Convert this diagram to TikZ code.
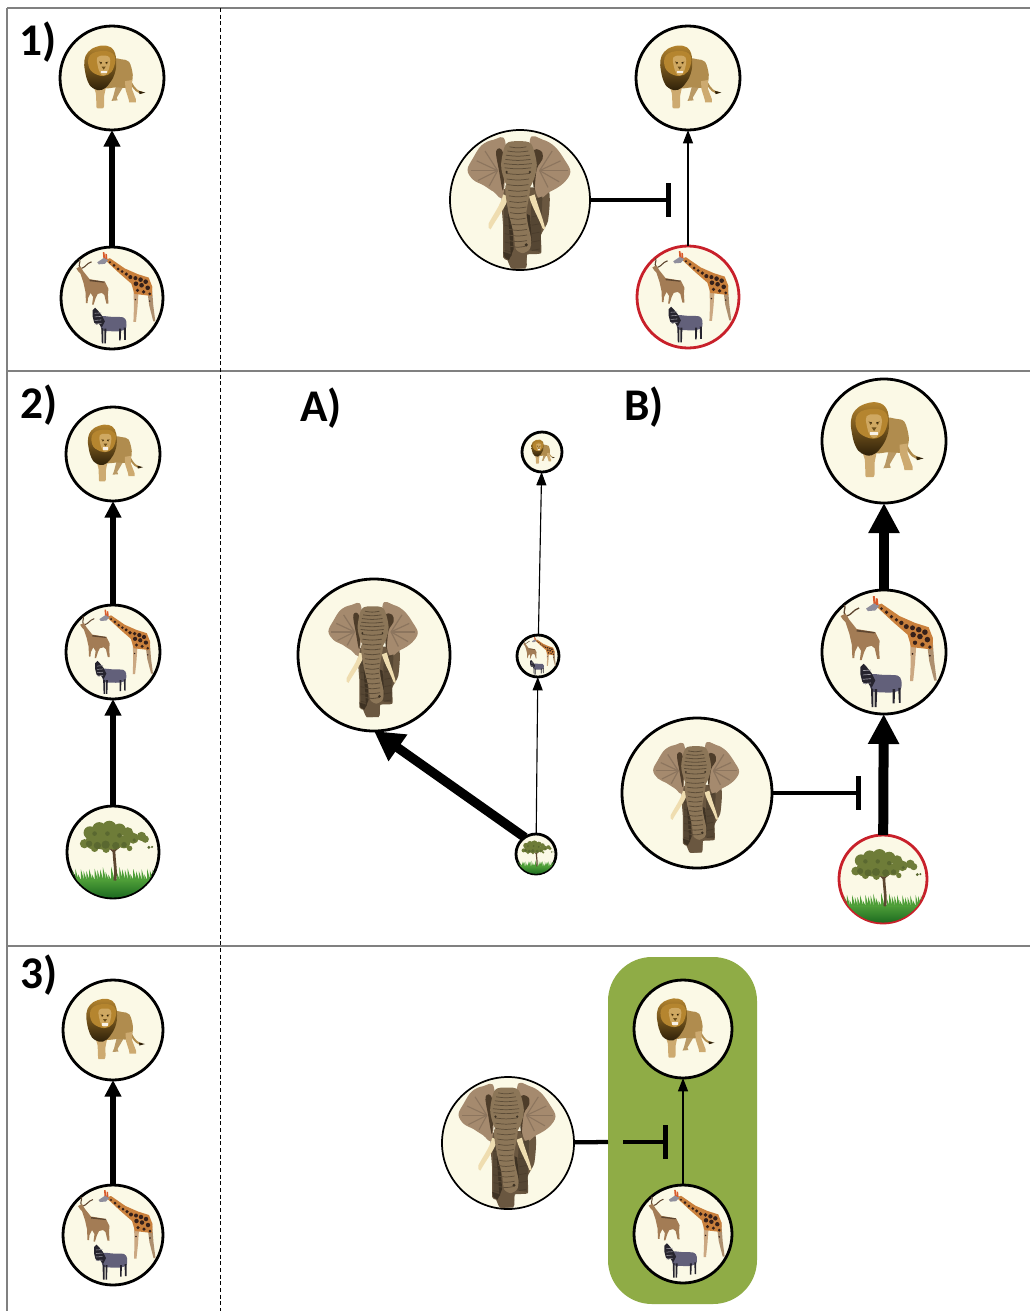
\documentclass[tikz,border=0pt]{standalone}
\usepackage{fontspec}
\setmainfont{Carlito}
\usetikzlibrary{arrows.meta}
\definecolor{cream}{HTML}{FBF9E6}
\definecolor{rim}{HTML}{C8202A}
\definecolor{patch}{HTML}{8FAC46}
\definecolor{rule}{HTML}{808080}
\definecolor{lionbody}{HTML}{B08C4E}
\definecolor{lionlight}{HTML}{CDAA70}
\definecolor{lionmane}{HTML}{B5852F}
\definecolor{lionface}{HTML}{CFA862}
\definecolor{liondark}{HTML}{2E2009}
\definecolor{earcol}{HTML}{A58A6E}
\definecolor{eardark}{HTML}{4E3D2A}
\definecolor{headcol}{HTML}{8C7658}
\definecolor{legcol}{HTML}{6A5740}
\definecolor{wrink}{HTML}{3E3223}
\definecolor{tusk}{HTML}{EFDDB0}
\definecolor{giraffe}{HTML}{C9803C}
\definecolor{giraffeleg}{HTML}{CBA882}
\definecolor{giraffespot}{HTML}{35201A}
\definecolor{giraffehead}{HTML}{8F8E9C}
\definecolor{kudu}{HTML}{A37C55}
\definecolor{kududark}{HTML}{5E4630}
\definecolor{zebra}{HTML}{62607A}
\definecolor{zebradark}{HTML}{26242E}
\definecolor{canopy}{HTML}{6E7C38}
\definecolor{canopydark}{HTML}{5A6830}
\definecolor{bark}{HTML}{5C4630}
\definecolor{grass}{HTML}{4E9E38}
\definecolor{grassdark}{HTML}{1C6A20}
\tikzset{
  habitat/.style={circle,draw=black,line width=2.1pt,fill=cream,inner sep=0pt,outer sep=0pt},
  redrim/.style={draw=rim},
  thinrim/.style={line width=1.3pt},
  gridline/.style={draw=rule,line width=0.8pt},
  dashline/.style={draw=black,line width=0.6pt,dashed,dash pattern=on 3pt off 2pt},
  flowthin/.style={draw=black,line width=0.85pt,-{Triangle[width=7.5pt,length=10pt]}},
  flowmid/.style={draw=black,line width=4pt,-{Triangle[width=12pt,length=12.5pt]}},
  flowbig/.style={draw=black,line width=7.5pt,-{Triangle[width=22pt,length=22.5pt]}},
  flowdiag/.style={draw=black,line width=7pt,-{Triangle[width=23pt,length=22pt]}},
  stopline/.style={draw=black,line width=3.2pt,-{Bar[width=25pt,line width=3.8pt]}},
  plainline/.style={draw=black,line width=3.2pt},
  tag/.style={font=\bfseries\fontsize{34}{34}\selectfont,anchor=base west,inner sep=0pt},
  pics/lionart/.style={code={
    % tail
    \draw[lionbody,line width=\rr*0.03pt] (36,8) .. controls (44,24) and (50,27) .. (58,28);
    \fill[liondark] (52,25) -- (64,28) -- (53,31) -- cycle;
    % far legs
    \fill[lionlight!90!black] (8,14) -- (22,16) -- (9,38) -- (11,43) -- (-1,44) -- (2,37) -- cycle;
    % body
    \fill[lionbody] plot[smooth cycle,tension=.55] coordinates {(0,-37) (18,-36) (33,-31) (40,-6) (37,12) (30,19) (8,18) (-12,20) (-30,16) (-28,-20)};
    \fill[lionlight] (25,6) -- (38,4) -- (38,20) -- (46,41) -- (46,47) -- (33,47) -- (32,41) -- (26,22) -- cycle;
    \fill[lionlight] plot[smooth cycle,tension=.35] coordinates {(-36,10) (-12,12) (-15,34) (-15,52) (-17,58) (-29,58) (-30,52) (-31,30)};
    % mane
    \shade[top color=lionmane,middle color=lionmane!55!liondark,bottom color=liondark,shading angle=0] plot[smooth cycle,tension=.7] coordinates {(-30,-60) (-10,-62) (4,-52) (8,-30) (5,-8) (-6,12) (-20,23) (-36,20) (-46,8) (-52,-14) (-53,-34) (-46,-50)};
    \fill[lionmane] plot[smooth cycle,tension=.7] coordinates {(-42,-44) (-16,-52) (4,-44) (4,-22) (-8,-6) (-28,-6) (-44,-20)};
    % face
    \fill[lionface] plot[smooth cycle,tension=.7] coordinates {(-28,-40) (-16,-43) (-5,-40) (-4,-26) (-9,-10) (-16,-5) (-23,-10) (-28,-26)};
    \fill[lionmane!70!black] (-25,-32) -- (-19,-29) -- (-22,-26) -- cycle;
    \fill[lionmane!70!black] (-7,-32) -- (-13,-29) -- (-10,-26) -- cycle;
    \fill[liondark] (-21,-29.5) circle (1.5);
    \fill[liondark] (-11,-29.5) circle (1.5);
    \fill[lionmane!60!black] (-20,-22) -- (-12,-22) -- (-16,-16) -- cycle;
    \fill[white!85!lionface] (-22,-14) rectangle (-10,-9);
  }},
  pics/elephantart/.style={code={
    % legs and body
    \fill[legcol] plot[smooth cycle,tension=.3] coordinates {(-24,-15) (40,-15) (40,30) (30,50) (30,76) (10,78) (9,96) (-12,98) (-18,86) (-24,82) (-24,40)};
    % ears
    \fill[earcol] plot[smooth cycle,tension=.6] coordinates {(-21,-83) (-38,-86) (-55,-78) (-67,-60) (-75,-43) (-67,-29) (-52,-21) (-38,-12) (-24,-7)};
    \fill[earcol] plot[smooth cycle,tension=.6] coordinates {(14,-85) (33,-86) (50,-76) (64,-57) (72,-40) (62,-24) (43,-12) (24,-7)};
    \fill[eardark] plot[smooth cycle,tension=.7] coordinates {(-24,-66) (-34,-70) (-30,-42) (-24,-14)};
    \fill[eardark] plot[smooth cycle,tension=.7] coordinates {(18,-66) (30,-70) (32,-58) (24,-44) (20,-14)};
    \foreach \a/\b in {-70/-42,-62/-56,-60/-28,-50/-70,-44/-20}{
      \draw[earcol!85!black,line width=\rr*0.012pt] (-32,-42) -- (\a,\b);}
    \foreach \a/\b in {68/-42,58/-56,56/-26,46/-70,40/-18}{
      \draw[earcol!85!black,line width=\rr*0.012pt] (28,-42) -- (\a,\b);}
    % head
    \fill[headcol] plot[smooth cycle,tension=.5] coordinates {(-27,-50) (-20,-80) (-2,-84) (16,-80) (24,-50) (18,-25) (6,-10) (-10,-10) (-21,-25)};
    % legs detail
    \fill[legcol!80!black] (-23,-5) -- (-8,0) -- (-12,80) -- (-22,82) -- cycle;
    \fill[legcol!80!black] (16,0) -- (32,-5) -- (29,74) -- (14,72) -- cycle;
    \fill[legcol] (-10,60) -- (12,60) -- (8,98) -- (-12,98) -- cycle;
    \foreach \y in {0,12,...,72}{
      \draw[wrink!70!legcol,line width=\rr*0.008pt] (-22,\y) -- (-13,\y+2);
      \draw[wrink!70!legcol,line width=\rr*0.008pt] (17,\y) -- (28,\y-2);}
    % dark gaps beside the trunk and under the body
    \fill[wrink] (-17,20) -- (-12,20) -- (-9,70) -- (-13,80) -- cycle;
    \fill[wrink] (10,20) -- (14,22) -- (17,60) -- (13,72) -- cycle;
    \fill[wrink] (-24,74) -- (-12,78) -- (-16,86) -- (-22,82) -- cycle;
    % tusks
    \fill[tusk] (-24,-8) -- (-16,-5) .. controls (-20,10) and (-32,24) .. (-42,42) .. controls (-45,42) and (-46,38) .. (-45,34) .. controls (-38,20) and (-28,8) .. cycle;
    \fill[tusk] (13,-5) -- (21,-8) .. controls (26,10) and (32,24) .. (36,41) .. controls (34,42) and (33,42) .. (32,40) .. controls (26,24) and (17,10) .. cycle;
    % trunk
    \fill[headcol] plot[smooth cycle,tension=.4] coordinates {(-20,-22) (14,-22) (9,20) (16,56) (14,70) (4,76) (-6,70) (-9,48) (-17,15)};
    \foreach \y/\w in {-76/12,-70/15,-64/17,-58/18,-52/20,-46/19,-38/17,-30/16,-22/15,-14/14,-6/13,2/12,10/12,18/11,26/11,34/12,42/13,50/13,58/13,66/11}{
      \draw[wrink!60!headcol,line width=\rr*0.008pt] (-\w-3,\y) .. controls (-3,\y+2) and (-3,\y+2) .. (\w-3,\y);}
    \fill[wrink] (-19,-40) circle (1.8);
    \fill[wrink] (14,-40) circle (1.8);
    \fill[wrink] (9,64) circle (2.5);
  }},
  pics/grazerart/.style={code={
    % giraffe legs
    \fill[giraffeleg] (42,-25) -- (53,-25) -- (50,18) -- (47,47) -- (42,47) -- (43,18) -- cycle;
    \fill[giraffeleg!85!black] (68,-25) -- (78,-25) -- (81,15) -- (85,46) -- (81,46) -- (73,15) -- cycle;
    % giraffe body
    \fill[giraffe] (-14,-75) -- (-4,-78) -- (25,-58) -- (50,-47) -- (72,-40) -- (79,-22) -- (78,-4) -- (44,-8) -- (38,-28) -- (15,-48) -- cycle;
    \foreach \x/\y/\s in {-4/-70/2.3,4/-64/3,12/-57/3,20/-52/3,28/-47/3.5,36/-41/4,46/-39/4,56/-36/4.5,66/-32/4.5,47/-28/4.5,58/-25/4.5,70/-20/4.5,50/-15/3.5,62/-12/3.5,74/-8/3}{
      \fill[giraffespot] (\x,\y) circle (\s);}
    \fill[giraffespot] (46,3) circle (1.6);
    \fill[giraffespot] (74,6) circle (1.6);
    % giraffe head
    \fill[giraffehead] (-29,-70) -- (-14,-80) -- (-8,-74) -- (-14,-67) -- (-26,-66) -- cycle;
    \fill[giraffe!70!red] (-18,-90) -- (-15,-90) -- (-13,-78) -- (-17,-78) -- cycle;
    \fill[giraffe!70!red] (-13,-87) -- (-10,-86) -- (-9,-76) -- (-13,-76) -- cycle;
    % kudu
    \draw[kududark,line width=\rr*0.016pt] (-62,-58) .. controls (-68,-66) and (-60,-70) .. (-64,-76);
    \draw[kududark,line width=\rr*0.016pt] (-60,-58) .. controls (-52,-60) and (-50,-68) .. (-40,-71);
    \fill[kudu] (-70,-58) -- (-62,-62) -- (-56,-52) -- (-44,-37) -- (-14,-32) -- (-7,-18) -- (-8,-7) -- (-7,11) -- (-11,11) -- (-15,-6) -- (-20,-10) -- (-28,-8) -- (-32,0) -- (-36,13) -- (-39,13) -- (-37,-2) -- (-42,-10) -- (-47,0) -- (-48,10) -- (-51,10) -- (-52,-12) -- (-56,-30) -- (-62,-48) -- (-66,-52) -- cycle;
    \fill[kududark] (-44,-36) -- (-14,-32) -- (-16,-30) -- (-44,-33) -- cycle;
    % zebra
    \fill[zebra] plot[smooth cycle,tension=.5] coordinates {(-24,37) (0,37) (22,38) (28,46) (27,60) (15,65) (-4,65) (-20,62)};
    \fill[zebradark] (-21,58) -- (-17,60) -- (-17,89) -- (-20,89) -- cycle;
    \fill[zebradark] (-15,60) -- (-11,60) -- (-12,89) -- (-15,89) -- cycle;
    \fill[zebradark] (14,60) -- (18,60) -- (17,83) -- (14,83) -- cycle;
    \fill[zebradark] (23,58) -- (27,58) -- (27,82) -- (24,82) -- cycle;
    \fill[zebradark] (-38,24) -- (-33,19) -- (-28,24) -- (-20,34) -- (-14,46) -- (-20,58) -- (-26,50) -- (-30,52) -- (-35,48) -- (-38,36) -- cycle;
    \foreach \y in {30,37,...,51}{
      \draw[zebra!60!cream,line width=\rr*0.008pt] (-34,\y) -- (-21,\y-1);}
  }},
  pics/treeart/.style={code={
    \begin{scope}
    \clip (0,0) circle (99);
    \shade[top color=grass,bottom color=grassdark] (-100,60) rectangle (100,100);
    \foreach \x in {-96,-90,...,96}{
      \pgfmathsetmacro{\tp}{32+mod(\x*\x,19)}
      \pgfmathsetmacro{\ln}{-4+mod(\x*\x,9)}
      \fill[grass] (\x-4,64) -- (\x+\ln,\tp) -- (\x+4,64) -- cycle;}
    \end{scope}
    \draw[bark,line width=\rr*0.045pt] (4,62) .. controls (8,40) and (2,20) .. (2,-8);
    \draw[bark,line width=\rr*0.03pt] (2,0) -- (-16,-18);
    \draw[bark,line width=\rr*0.03pt] (2,-2) -- (22,-18);
    \foreach \x/\y/\s in {-50/-42/14,-30/-50/15,-8/-52/16,14/-48/14,32/-42/12,-62/-18/10,-44/-22/16,-22/-25/20,2/-25/20,24/-22/14,44/-30/12,62/-34/10,70/-28/8,-40/-8/8,-15/-6/8,36/-8/6}{
      \fill[canopy] (\x,\y) circle (\s);}
    \foreach \x/\y/\s in {-52/-18/7,-34/-14/8,-16/-16/9,6/-14/8,24/-16/6,-40/-40/5,-12/-40/5,14/-36/5,46/-26/4}{
      \fill[canopydark] (\x,\y) circle (\s);}
    \fill[canopydark] (78,-10) circle (3.5);
    \fill[canopydark] (85,-11) circle (2.5);
  }}
}
\newcommand{\habnode}[7][]{%
  \node[habitat,minimum size=#5*1.5pt,#7] (#2) at (#3,#4) {};
  \def\rr{#5}%
  \pic[scale=#5/100,#1] at (#2) {#6};}
\begin{document}
\begin{tikzpicture}[x=0.75pt,y=-0.75pt]
\useasboundingbox (0,0) rectangle (1030,1311);
\fill[white] (0,0) rectangle (1030,1311);
% frame
\draw[gridline] (7,8) -- (7,1311);
\draw[gridline] (7,8) -- (1030,8);
\draw[gridline] (7,371) -- (1030,371);
\draw[gridline] (7,946) -- (1030,946);
\draw[dashline] (220,8) -- (220,1311);
% green patch
\fill[patch,rounded corners=33pt] (608,957) rectangle (757,1304);
% panel 1
\habnode{lionA}{112}{78}{52}{lionart}{}
\habnode{grazeA}{112}{298}{51}{grazerart}{}
\habnode{lionB}{688}{78}{52}{lionart}{}
\habnode{eleB}{520}{200}{70}{elephantart}{thinrim}
\habnode{grazeB}{688}{297}{51}{grazerart}{redrim}
% panel 2
\habnode{lionC}{113}{454}{47}{lionart}{}
\habnode{grazeC}{113}{652}{47}{grazerart}{}
\habnode{treeC}{113}{852}{46}{treeart}{}
\habnode{lionD}{542}{452}{20}{lionart}{}
\habnode{grazeD}{538}{656}{21}{grazerart}{}
\habnode{treeD}{536}{854}{20}{treeart}{}
\habnode[scale=.8,yshift=-3pt]{eleD}{374}{655}{76}{elephantart}{}
\habnode{lionE}{884}{441}{62}{lionart}{}
\habnode{grazeE}{884}{652}{62}{grazerart}{}
\habnode[scale=.78,yshift=-3pt]{eleE}{697}{793}{75}{elephantart}{}
\habnode{treeE}{883}{879}{44}{treeart}{redrim}
% panel 3
\habnode{lionF}{113}{1030}{50}{lionart}{}
\habnode{grazeF}{113}{1235}{50}{grazerart}{}
\habnode{lionG}{683}{1029}{49}{lionart}{}
\habnode{grazeG}{683}{1234}{49}{grazerart}{}
\habnode{eleG}{508}{1143}{66}{elephantart}{thinrim}
% end points of the stop lines
\coordinate (stopB) at (671,200);
\coordinate (stopE) at (861,793);
\coordinate (gapL) at (608,1142);
\coordinate (gapR) at (623,1142);
\coordinate (stopG) at (668,1142);
% connectors
\draw[flowmid] (grazeA) -- (lionA);
\draw[flowthin] (grazeB) -- (lionB);
\draw[stopline] (eleB) -- (stopB);
\draw[flowmid] (grazeC) -- (lionC);
\draw[flowmid] (treeC) -- (grazeC);
\draw[flowthin] (treeD) -- (grazeD);
\draw[flowthin] (grazeD) -- (lionD);
\draw[flowdiag] (treeD.124) -- (eleD.270);
\draw[flowbig] (grazeE) -- (lionE);
\draw[flowbig] (treeE) -- (grazeE);
\draw[stopline] (eleE) -- (stopE);
\draw[flowmid] (grazeF) -- (lionF);
\draw[flowthin] (grazeG) -- (lionG);
\draw[plainline] (eleG) -- (gapL);
\draw[stopline] (gapR) -- (stopG);
% labels
\node[tag] (t1) at (19,55) {1)};
\node[tag] (t2) at (20,418) {2)};
\node[tag] (t3) at (20,988) {3)};
\node[tag] (tA) at (300,421) {A)};
\node[tag] (tB) at (624,420) {B)};
\end{tikzpicture}
\end{document}
